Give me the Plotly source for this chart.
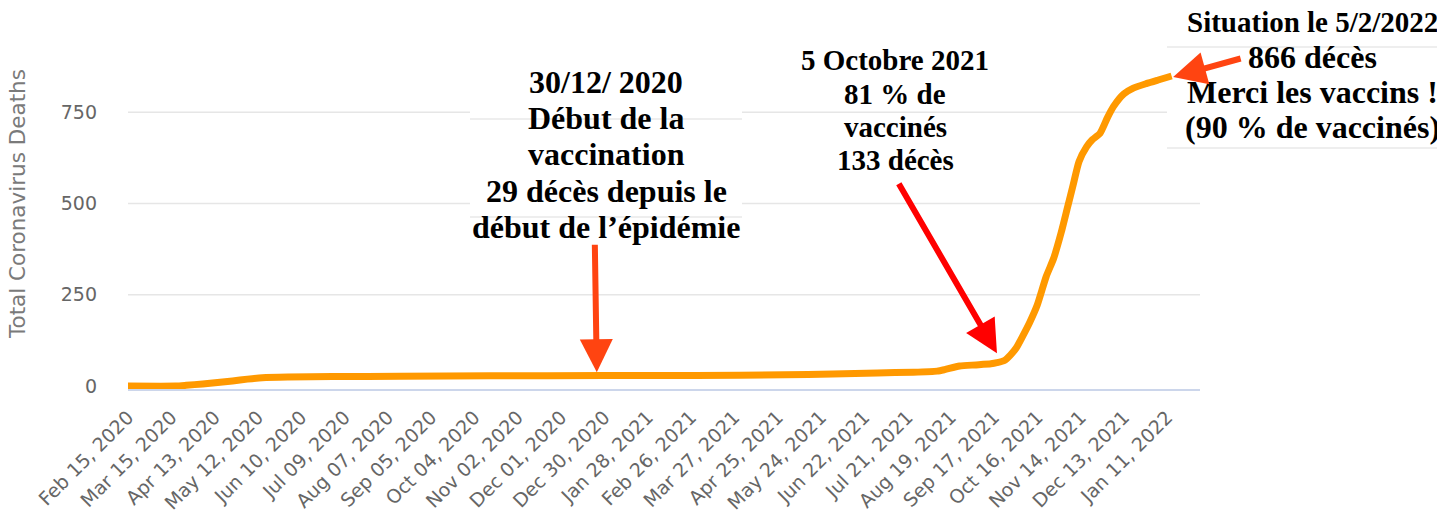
import plotly.graph_objects as go

# ---------------- data ----------------
dates = [
    "2020-02-15", "2020-03-18", "2020-03-25", "2020-04-05", "2020-04-15", "2020-04-25",
    "2020-05-05", "2020-05-15", "2020-06-01", "2020-07-01", "2020-08-15", "2020-10-15",
    "2020-12-30", "2021-03-01", "2021-04-30", "2021-06-01", "2021-07-01", "2021-07-25",
    "2021-08-10", "2021-08-15", "2021-08-25", "2021-09-05", "2021-09-15", "2021-09-19",
    "2021-09-24", "2021-09-28", "2021-10-02", "2021-10-06", "2021-10-11", "2021-10-16",
    "2021-10-22", "2021-10-27", "2021-11-01", "2021-11-05", "2021-11-09", "2021-11-13",
    "2021-11-18", "2021-11-22", "2021-11-27", "2021-12-02", "2021-12-06", "2021-12-13",
    "2021-12-19", "2021-12-28", "2022-01-05", "2022-01-14",
]
deaths = [
    0, 0, 2, 6, 10, 14,
    19, 23, 25, 26, 27, 28,
    29, 29, 31, 33, 36, 38,
    41, 45, 55, 58, 61, 64,
    70, 85, 105, 135, 175, 222,
    300, 350, 420, 485, 550, 615,
    655, 675, 692, 735, 765, 800,
    815, 828, 838, 849,
]

tick_labels = [
    "Feb 15, 2020", "Mar 15, 2020", "Apr 13, 2020", "May 12, 2020", "Jun 10, 2020",
    "Jul 09, 2020", "Aug 07, 2020", "Sep 05, 2020", "Oct 04, 2020", "Nov 02, 2020",
    "Dec 01, 2020", "Dec 30, 2020", "Jan 28, 2021", "Feb 26, 2021", "Mar 27, 2021",
    "Apr 25, 2021", "May 24, 2021", "Jun 22, 2021", "Jul 21, 2021", "Aug 19, 2021",
    "Sep 17, 2021", "Oct 16, 2021", "Nov 14, 2021", "Dec 13, 2021", "Jan 11, 2022",
]
tick_values = [
    "2020-02-15", "2020-03-15", "2020-04-13", "2020-05-12", "2020-06-10",
    "2020-07-09", "2020-08-07", "2020-09-05", "2020-10-04", "2020-11-02",
    "2020-12-01", "2020-12-30", "2021-01-28", "2021-02-26", "2021-03-27",
    "2021-04-25", "2021-05-24", "2021-06-22", "2021-07-21", "2021-08-19",
    "2021-09-17", "2021-10-16", "2021-11-14", "2021-12-13", "2022-01-11",
]
y_ticks = [0, 250, 500, 750]
y_grid = [250, 500, 750]

note_start = ["30/12/ 2020", "Début de la", "vaccination", "29 décès depuis le",
              "début de l’épidémie"]
note_oct = ["5 Octobre 2021", "81 % de", "vaccinés", "133 décès"]
note_head = "Situation le 5/2/2022"
note_now = ["866 décès", "Merci les vaccins !", "(90 % de vaccinés)"]

# ---------------- layout geometry ----------------
# the page body adds an 8 px margin; positions below are page pixels
OX, OY = 8, 8
W, H = 1445, 518
L = 128 - OX
T = 57 - OY
B = H - (389 - OY)
R = W - (1200 - OX)
PW, PH = W - L - R, H - T - B


def px(xp):
    return (xp - OX - L) / PW


def py(yp):
    return (H - B - (yp - OY)) / PH


fig = go.Figure()
fig.add_trace(go.Scatter(
    x=dates, y=deaths, mode="lines",
    line=dict(color="#FF9900", width=7, shape="spline", smoothing=0.6),
    hoverinfo="skip", showlegend=False,
))

ann = []
serif = "Liberation Serif"


def add_lines(lines, xc, mids, size):
    for txt, ym in zip(lines, mids):
        ann.append(dict(
            text="<b>%s</b>" % txt, xref="paper", yref="paper",
            x=px(xc), y=py(ym), xanchor="center", yanchor="middle",
            showarrow=False, font=dict(family=serif, size=size, color="#000000"),
        ))


add_lines(note_start, 606, [82, 117.5, 154, 191, 227.5], 32)
add_lines(note_oct, 895, [60, 94, 127, 160], 29)
add_lines([note_head], 1312, [22], 29)
add_lines(note_now, 1312, [57, 92, 127], 32)

# arrows (tips in data coordinates)
arrow_specs = [
    ("2020-12-25", 38, -2, -129, "#FF4411"),
    ("2021-09-19", 90, -99, -171, "#FF0000"),
    ("2022-01-15", 846, 69, -19, "#FF4411"),
]
for xd, yd, dx, dy, col in arrow_specs:
    ann.append(dict(
        x=xd, y=yd, xref="x", yref="y", ax=dx, ay=dy, text="",
        showarrow=True, arrowhead=2, arrowsize=1.1, arrowwidth=6,
        arrowcolor=col, standoff=0, startstandoff=0,
    ))

# y axis title
ann.append(dict(
    text="Total Coronavirus Deaths", xref="paper", yref="paper",
    x=px(18), y=py(204), xanchor="center", yanchor="middle", textangle=-90,
    showarrow=False, font=dict(family="DejaVu Sans", size=21.5, color="#7a7a7a"),
))

shapes = []
for v in y_grid:
    shapes.append(dict(type="line", xref="paper", yref="y", x0=0, x1=1, y0=v, y1=v,
                       line=dict(color="#e6e6e6", width=1.5), layer="below"))
shapes += [
    dict(type="rect", xref="paper", yref="paper", x0=px(470), x1=px(742),
         y0=py(252), y1=py(57), fillcolor="white", line=dict(width=0), layer="between"),
    dict(type="rect", xref="paper", yref="paper", x0=px(1167), x1=px(1201),
         y0=py(150), y1=py(57), fillcolor="white", line=dict(width=0), layer="between"),
    dict(type="line", xref="paper", yref="paper", x0=px(470), x1=px(742),
         y0=py(119), y1=py(119), line=dict(color="#e8e8e8", width=1.5), layer="between"),
    dict(type="line", xref="paper", yref="paper", x0=px(470), x1=px(742),
         y0=py(217), y1=py(217), line=dict(color="#e8e8e8", width=1.5), layer="between"),
    dict(type="line", xref="paper", yref="paper", x0=px(1167), x1=px(1445),
         y0=py(47), y1=py(47), line=dict(color="#e8e8e8", width=1.5), layer="below"),
    dict(type="line", xref="paper", yref="paper", x0=px(1167), x1=px(1445),
         y0=py(148), y1=py(148), line=dict(color="#e8e8e8", width=1.5), layer="below"),
]

fig.update_layout(
    width=W, height=H, autosize=False,
    margin=dict(l=L, r=R, t=T, b=B, pad=0, autoexpand=False),
    paper_bgcolor="white", plot_bgcolor="white",
    showlegend=False,
    annotations=ann, shapes=shapes,
    xaxis=dict(
        type="date", range=["2020-02-15", "2022-02-02"], automargin=False,
        tickvals=tick_values, ticktext=tick_labels, tickangle=-45,
        tickfont=dict(family="DejaVu Sans", size=19, color="#666666"),
        showgrid=False, zeroline=False,
        showline=True, linecolor="#ccd6eb", linewidth=1.5,
        ticks="", ticklabelstandoff=8,
    ),
    yaxis=dict(
        range=[-8, 901], tickvals=y_ticks, ticktext=[str(v) for v in y_ticks],
        automargin=False,
        tickfont=dict(family="DejaVu Sans", size=19, color="#666666"),
        showgrid=False, zeroline=False, showline=False, ticks="",
        ticklabelstandoff=30,
    ),
)

fig.write_html("out.html")
